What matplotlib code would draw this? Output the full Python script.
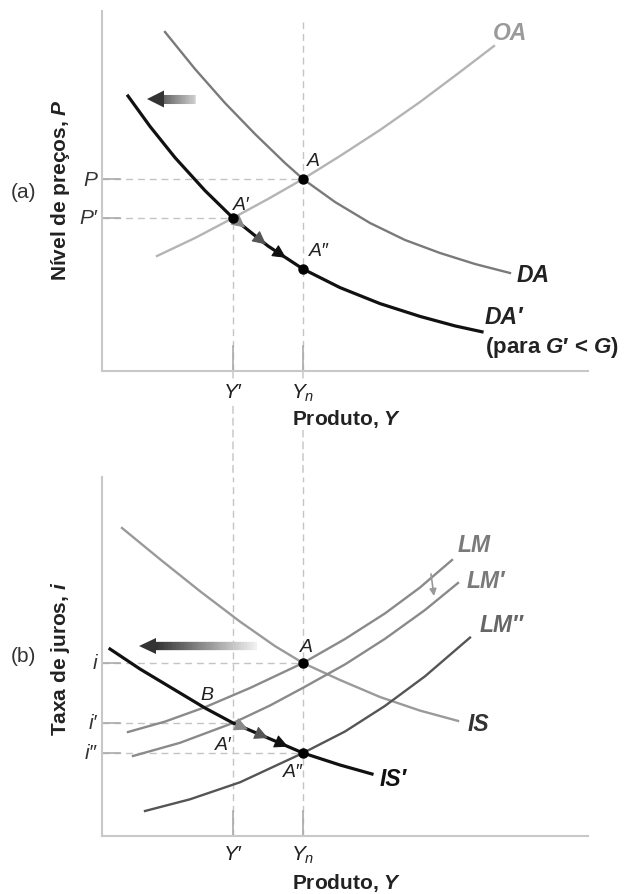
import numpy as np
import matplotlib.pyplot as plt
from matplotlib.patches import ConnectionPatch, Polygon
from matplotlib.collections import LineCollection
from matplotlib.colors import to_rgb

plt.rcParams['font.family'] = ['Liberation Sans', 'DejaVu Sans']
plt.rcParams['mathtext.fontset'] = 'custom'
plt.rcParams['mathtext.rm'] = 'Liberation Sans'
plt.rcParams['mathtext.it'] = 'Liberation Sans:italic'
plt.rcParams['mathtext.bf'] = 'Liberation Sans:bold'
plt.rcParams['mathtext.bfit'] = 'Liberation Sans:bold:italic'

# niveis de produto (comuns aos dois paineis)
Y_linha = 131
Y_n = 201

# painel (a) : OA - DA
P = 192
P_linha = 153
P_2linhas = 102
oa_x = [55, 93, 131, 166, 201, 238, 278, 318, 358, 392]
oa_y = [115, 133, 153, 172, 192, 215, 241, 269, 299, 325]
da_x = [63, 93, 123, 153, 183, 201, 233, 268, 303, 338, 373, 408]
da_y = [339, 302, 268, 237, 208, 192, 169, 148, 131, 118, 107, 98]
da2_x = [26, 48, 73, 103, 131, 166, 201, 238, 278, 318, 353, 380]
da2_y = [275, 244.6, 213.4, 180.4, 153, 125, 102, 83.4, 67.4, 54.6, 45.1, 39.2]
setas_da2 = [143, 164, 184]

# painel (b) : IS - LM
i = 173
i_linha = 113
i_2linhas = 83
is_x = [20, 58, 98, 138, 173, 201, 238, 278, 318, 356]
is_y = [308, 276.8, 244.8, 214.4, 189.9, 173, 156, 139, 125.4, 115.1]
is2_x = [8, 38, 68, 103, 131, 166, 201, 238, 270]
is2_y = [187, 167, 149, 128, 113, 98, 83, 71, 62]
lm_x = [26, 63, 103, 148, 201, 243, 283, 318, 350]
lm_y = [104, 114.4, 128.8, 148, 173, 197, 222.6, 248.5, 276]
lm1_x = [31, 78, 131, 168, 201, 243, 283, 323, 356]
lm1_y = [80, 93.2, 113, 130.5, 148.2, 171.6, 197.2, 226, 253]
lm2_x = [43, 88, 138, 201, 243, 283, 323, 368]
lm2_y = [25, 36.7, 53.7, 83, 104.5, 130.1, 159.7, 198.4]
setas_is2 = [146, 166, 186]

cinza_eixo = '#c8c8c8'
cinza_trac = '#c4c4c4'
tracejado = (0, (5, 3.5))

fig = plt.figure(figsize=(6.29, 8.95), dpi=100)
axa = fig.add_axes([102 / 629, 523 / 895, 486 / 629, 360 / 895])
axb = fig.add_axes([102 / 629, 58 / 895, 486 / 629, 359 / 895])
for ax, ytop in ((axa, 360), (axb, 359)):
    ax.set_xlim(0, 486)
    ax.set_ylim(0, ytop)
    ax.set_facecolor('none')
    for s in ['top', 'right']:
        ax.spines[s].set_visible(False)
    for s in ['left', 'bottom']:
        ax.spines[s].set_color(cinza_eixo)
        ax.spines[s].set_linewidth(1.5)
    ax.set_xticks([])
    ax.set_yticks([])


def seta_degrade(ax, x_cauda, x_ponta, y, cor_cauda, espessura, altura_ponta):
    # flecha horizontal com haste em degrade (clara na cauda, escura na ponta)
    base = x_ponta + 16
    xs = np.linspace(x_cauda, base, 40)
    segs = [[(xs[k], y), (xs[k + 1], y)] for k in range(len(xs) - 1)]
    c0 = np.array(to_rgb(cor_cauda))
    c1 = np.array(to_rgb('#333333'))
    cores = [c0 + (c1 - c0) * t for t in np.linspace(0, 1, len(segs))]
    ax.add_collection(LineCollection(segs, colors=cores, linewidths=espessura,
                                     capstyle='butt', zorder=4))
    ax.add_patch(Polygon([(x_ponta, y), (base + 1, y + altura_ponta / 2),
                          (base + 1, y - altura_ponta / 2)], closed=True,
                         color='#333333', zorder=4, lw=0))


def setinhas(ax, cx, cy, xs, cores):
    # pequenas pontas de seta ao longo de uma curva
    for x, c in zip(xs, cores):
        y = np.interp(x, cx, cy)
        y0 = np.interp(x - 9, cx, cy)
        ax.annotate('', xy=(x, y), xytext=(x - 9, y0),
                    arrowprops=dict(arrowstyle='-|>,head_length=0.6,head_width=0.3',
                                    color=c, lw=0.8, mutation_scale=14,
                                    shrinkA=0, shrinkB=0),
                    zorder=6)


def guias(ax, xs, ys):
    # tracos nos eixos + linhas tracejadas horizontais ate o ponto
    for yv, xv in zip(ys, xs):
        ax.plot([0, xv], [yv, yv], color=cinza_trac, lw=1, ls=tracejado, zorder=1)
        ax.plot([0, 18], [yv, yv], color='#aaaaaa', lw=1.2, zorder=2)
    for xv in (Y_linha, Y_n):
        ax.plot([xv, xv], [0, 25], color='#aaaaaa', lw=1.2, zorder=2)


escuro = '#222222'
rot = dict(style='italic', fontsize=14, color=escuro, clip_on=False)
curva = dict(style='italic', weight='bold', fontsize=16.5, clip_on=False, va='center')
marca = dict(ha='right', va='center', style='italic', fontsize=15, color='#333333')
branco = dict(facecolor='white', edgecolor='none', pad=1)

# ---------- painel (a)
guias(axa, [Y_n, Y_linha], [P, P_linha])
axa.plot([Y_n, Y_n], [0, 349], color=cinza_trac, lw=1, ls=tracejado, zorder=1)
axa.plot([Y_linha, Y_linha], [0, P_linha], color=cinza_trac, lw=1, ls=tracejado, zorder=1)

axa.plot(oa_x, oa_y, color='#b4b4b4', lw=1.7, zorder=3)
axa.plot(da_x, da_y, color='#7a7a7a', lw=1.7, zorder=3)
axa.plot(da2_x, da2_y, color='#111111', lw=2.3, zorder=3)
setinhas(axa, da2_x, da2_y, setas_da2, ['#888888', '#555555', '#111111'])
axa.plot([Y_n, Y_linha, Y_n], [P, P_linha, P_2linhas], 'o', color='black', ms=6.5, zorder=7)
seta_degrade(axa, 93, 45, 272, '#c0c0c0', 6.5, 17)

axa.text(205, 211, 'A', va='center', **rot)
axa.text(131, 167, 'A′', va='center', **rot)
axa.text(207, 121, 'A″', va='center', **rot)
axa.text(408, 339, 'OA', ha='center', color='#9a9a9a', **curva)
axa.text(415, 97, 'DA', ha='left', color=escuro, **curva)
axa.text(383, 54, 'DA′', ha='left', color=escuro, **curva)
axa.text(383, 24, r'(para $\mathbfit{G}$′ < $\mathbfit{G}$)', ha='left', va='center',
         weight='bold', fontsize=16, color=escuro, clip_on=False)

axa.text(-5, P, 'P', **marca)
axa.text(-5, P_linha, 'P′', **marca)
axa.text(-79, 180, '(a)', ha='center', va='center', fontsize=15, color='#333333')
axa.text(-42, 182, r'Nível de preços, $\mathbfit{P}$', rotation=90, ha='center', va='center',
         weight='bold', fontsize=15, color=escuro)
axa.text(Y_linha, -21, 'Y′', ha='center', va='center', style='italic', fontsize=15,
         color=escuro, bbox=branco, clip_on=False)
axa.text(Y_n, -21, r'$Y_n$', ha='center', va='center', fontsize=15,
         color=escuro, bbox=branco, clip_on=False)
axa.text(190, -47, r'Produto, $\mathbfit{Y}$', ha='left', va='center', weight='bold',
         fontsize=15, color=escuro, bbox=branco, clip_on=False)

# ---------- painel (b)
guias(axb, [Y_n, Y_linha, Y_n], [i, i_linha, i_2linhas])
axb.plot([Y_n, Y_n], [0, 359], color=cinza_trac, lw=1, ls=tracejado, zorder=1)
axb.plot([Y_linha, Y_linha], [0, 359], color=cinza_trac, lw=1, ls=tracejado, zorder=1)

axb.plot(is_x, is_y, color='#9a9a9a', lw=1.7, zorder=3)
axb.plot(lm_x, lm_y, color='#8a8a8a', lw=1.7, zorder=3)
axb.plot(lm1_x, lm1_y, color='#8a8a8a', lw=1.7, zorder=3)
axb.plot(lm2_x, lm2_y, color='#555555', lw=1.7, zorder=3)
axb.plot(is2_x, is2_y, color='#111111', lw=2.3, zorder=3)
setinhas(axb, is2_x, is2_y, setas_is2, ['#888888', '#555555', '#111111'])
axb.annotate('', xy=(332, 240), xytext=(329, 262),
             arrowprops=dict(arrowstyle='-|>', color='#999999', lw=1.2,
                             mutation_scale=10, shrinkA=0, shrinkB=0), zorder=6)
axb.plot([Y_n, Y_n], [i, i_2linhas], 'o', color='black', ms=6.5, zorder=7)
seta_degrade(axb, 155, 37, 190, '#f0f0f0', 6, 16)

axb.text(198, 189, 'A', va='center', **rot)
axb.text(105, 141, 'B', ha='center', va='center', **rot)
axb.text(121, 91, 'A′', ha='center', va='center', **rot)
axb.text(191, 64, 'A″', ha='center', va='center', **rot)
axb.text(356, 291, 'LM', ha='left', color='#7a7a7a', **curva)
axb.text(365, 255, 'LM′', ha='left', color='#7a7a7a', **curva)
axb.text(378, 211, 'LM″', ha='left', color='#666666', **curva)
axb.text(366, 112, 'IS', ha='left', color='#333333', **curva)
axb.text(278, 57, 'IS′', ha='left', color='#111111', **curva)

axb.text(-5, i, 'i', **marca)
axb.text(-5, i_linha, 'i′', **marca)
axb.text(-5, i_2linhas, 'i″', **marca)
axb.text(-79, 180, '(b)', ha='center', va='center', fontsize=15, color='#333333')
axb.text(-42, 178, r'Taxa de juros, $\mathbfit{i}$', rotation=90, ha='center', va='center',
         weight='bold', fontsize=15, color=escuro)
axb.text(Y_linha, -18, 'Y′', ha='center', va='center', style='italic', fontsize=15,
         color=escuro, clip_on=False)
axb.text(Y_n, -18, r'$Y_n$', ha='center', va='center', fontsize=15,
         color=escuro, clip_on=False)
axb.text(190, -46, r'Produto, $\mathbfit{Y}$', ha='left', va='center', weight='bold',
         fontsize=15, color=escuro, clip_on=False)

# linhas tracejadas ligando os dois paineis
for xv in (Y_linha, Y_n):
    con = ConnectionPatch(xyA=(xv, 0), coordsA=axa.transData, xyB=(xv, 359),
                          coordsB=axb.transData, color=cinza_trac, lw=1,
                          linestyle=tracejado, zorder=-1)
    fig.add_artist(con)

fig.savefig('out.png', dpi=100)
